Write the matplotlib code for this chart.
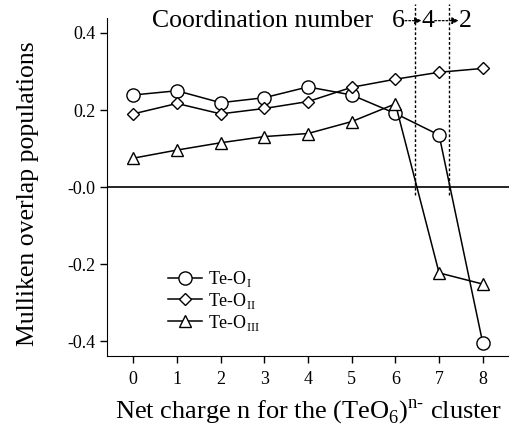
import matplotlib
matplotlib.use("Agg")
import matplotlib.pyplot as plt

plt.rcParams['font.family'] = ['Liberation Serif', 'DejaVu Serif']
plt.rcParams['mathtext.fontset'] = 'custom'
plt.rcParams['mathtext.rm'] = 'Liberation Serif'

charge = [0, 1, 2, 3, 4, 5, 6, 7, 8]
te_o1 = [0.239, 0.250, 0.219, 0.232, 0.260, 0.239, 0.191, 0.135, -0.405]
te_o2 = [0.190, 0.217, 0.190, 0.204, 0.222, 0.259, 0.280, 0.298, 0.308]
te_o3 = [0.075, 0.096, 0.115, 0.131, 0.139, 0.170, 0.216, -0.223, -0.252]
yticks = [-0.4, -0.2, 0.0, 0.2, 0.4]
ytick_labels = ["-0.4", "-0.2", "-0.0", "0.2", "0.4"]
transitions = [6.46, 7.22]

fig = plt.figure(figsize=(5.1, 4.28), dpi=100)
ax = fig.add_axes([0.21, 0.168, 0.788, 0.79])

ax.plot(charge, te_o1, 'o-', color='k', lw=1.1, ms=9.5, mfc='white', mew=1.0,
        label=r'Te-O$_{\rm I}$', zorder=3)
ax.plot(charge, te_o2, 'D-', color='k', lw=1.1, ms=6.5, mfc='white', mew=1.0,
        label=r'Te-O$_{\rm II}$', zorder=3)
ax.plot(charge, te_o3, '^-', color='k', lw=1.1, ms=9, mfc='white', mew=1.0,
        label=r'Te-O$_{\rm III}$', zorder=3)

ax.axhline(0, color='k', lw=1.2, zorder=2)
for xv in transitions:
    ax.plot([xv, xv], [-0.02, 0.475], ls=(0, (2, 1.5)), color='k', lw=1.0,
            clip_on=False, zorder=2)

ax.set_xlim(-0.6, 8.6)
ax.set_ylim(-0.439, 0.439)
ax.set_xticks(charge)
ax.set_yticks(yticks)
ax.set_yticklabels(ytick_labels)
ax.spines['top'].set_visible(False)
ax.spines['right'].set_visible(False)
ax.tick_params(direction='out', length=5, width=1, labelsize=13)
ax.tick_params(axis='x', pad=6)

ax.set_xlabel('Net charge n for the (TeO$_6$)$^{\\rm n\u2010}$ cluster', fontsize=19)
ax.xaxis.set_label_coords(0.5, -0.12)
ax.set_ylabel('Mulliken overlap populations', fontsize=18.5)
ax.yaxis.set_label_coords(-0.17, 0.48)

# coordination number annotation
ax.text(5.5, 0.432, 'Coordination number', fontsize=18.5, ha='right', va='center', clip_on=False)
for xv, s in [(6.06, '6'), (6.74, '4'), (7.61, '2')]:
    ax.text(xv, 0.432, s, fontsize=18.5, ha='center', va='center', clip_on=False)
for x0, x1 in [(6.22, 6.6), (6.9, 7.45)]:
    ax.annotate('', xy=(x1, 0.432), xytext=(x0, 0.432), annotation_clip=False,
                arrowprops=dict(arrowstyle='-|>', ls=(0, (1.5, 1.5)), color='k',
                                lw=0.9, mutation_scale=10, shrinkA=0, shrinkB=0))

ax.legend(loc='upper left', bbox_to_anchor=(0.12, 0.295), frameon=False, fontsize=13,
          handlelength=1.9, handletextpad=0.3, labelspacing=0.1, borderpad=0.2)

fig.savefig('out.png', dpi=100)
